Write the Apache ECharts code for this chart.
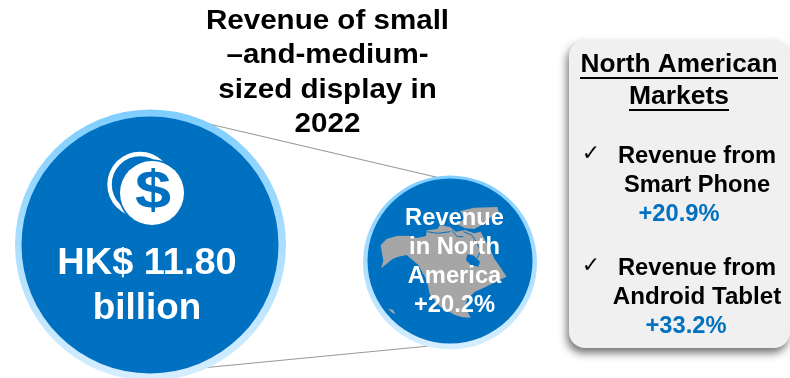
<!DOCTYPE html>
<html>
<head>
<meta charset="utf-8">
<style>html,body{margin:0;padding:0;background:#fff}#c{width:790px;height:378px}</style>
<script src="https://cdn.jsdelivr.net/npm/echarts@6/dist/echarts.min.js"></script>
</head>
<body>
<div id="c"></div>
<script>
const titleLines = ['Revenue of small', '–and-medium-', 'sized display in', '2022'];
const totalLines = ['HK$ 11.80', 'billion'];
const regionLines = ['Revenue', 'in North', 'America', '+20.2%'];
const panelHeading = ['North American', 'Markets'];
const phoneLines = ['Revenue from', 'Smart Phone'];
const phoneGrowth = '+20.9%';
const tabletLines = ['Revenue from', 'Android Tablet'];
const tabletGrowth = '+33.2%';

const BLUE = '#0070C0', GREY = '#A6A6A6', FONT = '"Liberation Sans", Arial, sans-serif';

// Outline of North America, in local units of a third of a pixel
const mainland = [[92,240],[110,222],[140,213],[175,212],[200,219],[228,213],[230,196],[262,192],[270,180],[300,186],[318,200],[345,195],[372,205],[392,200],[405,225],[420,250],[432,280],[450,305],[470,335],[460,340],[448,345],[405,367],[375,380],[352,402],[345,425],[362,458],[337,457],[315,450],[270,425],[240,390],[230,345],[205,300],[170,270],[145,275],[128,282],[93,310],[100,288],[96,265]];
const arctic = [[330,138],[372,128],[442,126],[446,142],[418,160],[395,180],[372,192],[345,190],[322,178],[345,160]];
const hudson = [[352,268],[372,272],[390,290],[385,305],[362,300],[348,285]];
const hawaii = [[114,431],[128,434],[137,446],[128,444]];
const channels = [
  [[232,200],[262,205],[300,200]],
  [[305,195],[322,215],[340,215]],
  [[340,200],[365,210],[378,228]],
  [[378,232],[392,255],[382,280]]
];

function poly(points, fill) {
  return { type: 'polygon', shape: { points }, style: { fill } };
}
function centered(str, x, y, size, fill, stretch) {
  return { type: 'text', x, y, scaleX: stretch || 1, style: { text: str, x: 0, y: 0, fill, font: 'bold ' + size + 'px ' + FONT, align: 'center', verticalAlign: 'middle' } };
}
function rule(x1, x2, y) {
  return { type: 'line', shape: { x1, y1: y, x2, y2: y }, style: { stroke: '#000', lineWidth: 2 } };
}
function check(x, y) {
  return { type: 'text', x, y, style: { text: '✓', fill: '#000', font: '22px "DejaVu Sans"', align: 'center', verticalAlign: 'middle' } };
}
function ring(cx, cy, r) {
  return { type: 'circle', shape: { cx, cy, r }, style: { fill: { type: 'linear', x: 0, y: 0, x2: 0, y2: 1, colorStops: [{ offset: 0, color: '#7FCEFF' }, { offset: 1, color: '#D6EEFF' }] } } };
}
function disc(cx, cy, r, fill) {
  return { type: 'circle', shape: { cx, cy, r }, style: { fill } };
}

const elements = [
  { type: 'line', shape: { x1: 205, y1: 123, x2: 440, y2: 178 }, style: { stroke: '#999', lineWidth: 1.2 } },
  { type: 'line', shape: { x1: 150, y1: 373, x2: 450, y2: 344 }, style: { stroke: '#999', lineWidth: 1.2 } },

  ring(150.5, 245, 135.5),
  disc(150, 245, 128.5, BLUE),
  // Coin icon: back coin as a ring, front coin with a blue halo
  disc(140, 184.4, 32.7, '#fff'),
  disc(140, 184.4, 28.2, BLUE),
  disc(152, 193, 33.7, BLUE),
  disc(152, 193, 32, '#fff'),
  centered('$', 153, 193, 54, BLUE, 1.2),
  centered(totalLines[0], 147, 264, 36.5, '#fff', 1.04),
  centered(totalLines[1], 147, 309, 36.5, '#fff', 1.01),

  ring(450, 262.5, 87),
  disc(450, 261, 82.5, BLUE),
  {
    type: 'group', x: 350, y: 165, scaleX: 1 / 3, scaleY: 1 / 3,
    children: [
      poly(mainland, GREY), poly(arctic, GREY), poly(hudson, BLUE), poly(hawaii, GREY),
      ...channels.map(points => ({ type: 'polyline', shape: { points }, style: { stroke: BLUE, lineWidth: 3, fill: null } }))
    ]
  },
  ...regionLines.map((s, i) => centered(s, 454.5, 219 + i * 29, 23, '#fff', 1.03)),

  ...titleLines.map((s, i) => centered(s, 327.5, 21 + i * 34.5, 27.5, '#000', 1.075)),

  {
    type: 'rect', shape: { x: 569, y: 40, width: 221, height: 308, r: 16 },
    style: { fill: '#F0F0F0', shadowBlur: 8, shadowOffsetX: -2, shadowOffsetY: 5, shadowColor: 'rgba(0,0,0,0.55)' }
  },
  centered(panelHeading[0], 679, 65.5, 25, '#000', 1.05),
  rule(580, 778, 78),
  centered(panelHeading[1], 679, 97.5, 25, '#000', 1.06),
  rule(629, 729, 110),

  check(591, 154),
  centered(phoneLines[0], 697, 156.5, 23, '#000', 1.03),
  centered(phoneLines[1], 697, 185.5, 23, '#000', 1.03),
  centered(phoneGrowth, 679, 214.5, 23, BLUE, 1.03),

  check(591, 266),
  centered(tabletLines[0], 697, 268.5, 23, '#000', 1.03),
  centered(tabletLines[1], 697, 297.5, 23, '#000', 1.05),
  centered(tabletGrowth, 686, 326.5, 23, BLUE, 1.03)
];

const chart = echarts.init(document.getElementById('c'), null, { renderer: 'canvas' });
chart.setOption({ animation: false, backgroundColor: '#fff', graphic: { elements } });
</script>
</body>
</html>
